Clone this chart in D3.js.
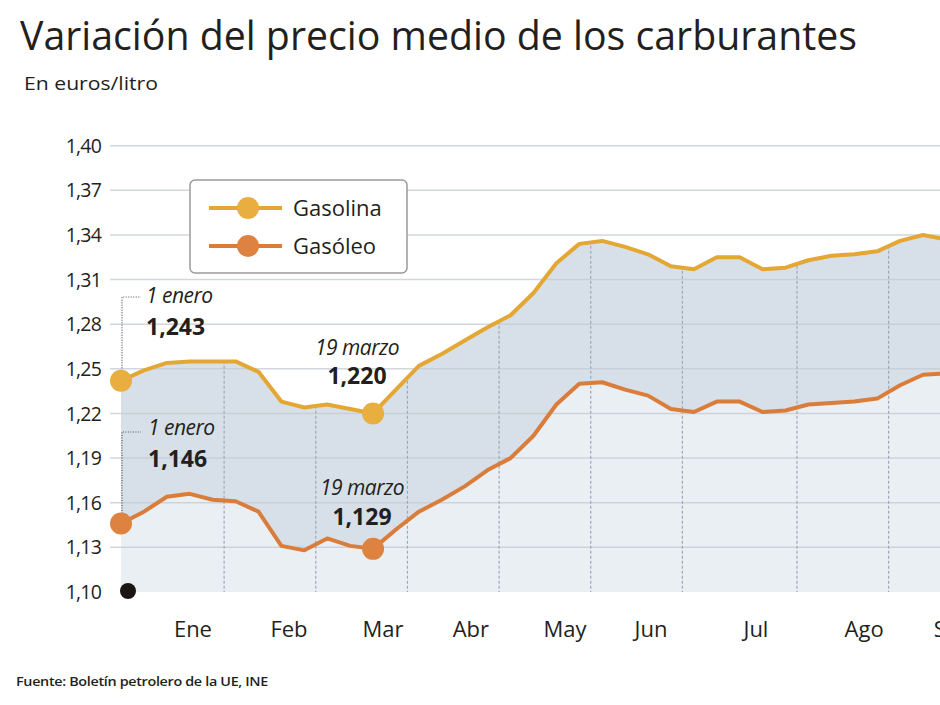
<!DOCTYPE html>
<html><head><meta charset="utf-8">
<script src="https://cdn.jsdelivr.net/npm/d3@7"></script>
<style>
body{margin:0;background:#fff}
svg{display:block}
text{font-family:"Open Sans",sans-serif;fill:#231f20}
</style>
</head><body><svg id="c" width="940" height="705"></svg>
<script>
// ---- DATA ----
const weeks = [0,1,2,3,4,5,6,7,8,9,10,11,12,13,14,15,16,17,18,19,20,21,22,23,24,25,26,27,28,29,30,31,32,33,34,35,36];
const gasolina = [1.242,1.249,1.254,1.255,1.255,1.255,1.248,1.228,1.224,1.226,1.223,1.220,1.236,1.252,1.260,1.269,1.278,1.286,1.301,1.321,1.334,1.336,1.332,1.327,1.319,1.317,1.325,1.325,1.317,1.318,1.323,1.326,1.327,1.329,1.336,1.340,1.337];
const gasoleo  = [1.146,1.154,1.164,1.166,1.162,1.161,1.154,1.131,1.128,1.136,1.131,1.129,1.142,1.154,1.162,1.171,1.182,1.190,1.205,1.226,1.240,1.241,1.236,1.232,1.223,1.221,1.228,1.228,1.221,1.222,1.226,1.227,1.228,1.230,1.239,1.246,1.247];
const monthLabels = ["Ene","Feb","Mar","Abr","May","Jun","Jul","Ago","Sep"];
const monthLabelPos = [3.14,7.33,11.43,15.27,19.38,23.13,27.71,32.43,36.3];
const monthBounds = [4.5,8.5,12.5,16.5,20.5,24.5,29.5,33.5];
const yTicks = [1.10,1.13,1.16,1.19,1.22,1.25,1.28,1.31,1.34,1.37,1.40];
const seriesNames = ["Gasolina","Gasóleo"];
const annotations = [
  {series:0, week:0,  date:"1 enero",  value:"1,243"},
  {series:1, week:0,  date:"1 enero",  value:"1,146"},
  {series:0, week:11, date:"19 marzo", value:"1,220"},
  {series:1, week:11, date:"19 marzo", value:"1,129"}
];

// ---- STYLE ----
const lineColors = ["#e4a734","#da7d3b"];
const markerColors = ["#e8ae3f","#dd8240"];
const bandTop = "#d7dfe8", bandLow = "#eaeff4";

const svg = d3.select("#c");
const x = d3.scaleLinear().domain([0,35]).range([121,923]);
const y = d3.scaleLinear().domain([1.10,1.40]).range([592,145.7]);
const fmt = d3.formatLocale({decimal:",",thousands:".",grouping:[3],currency:["","€"]}).format(".2f");

const series = [gasolina, gasoleo];
const pts = s => weeks.map((w,i)=>({w, v:series[s][i]}));

function fit(sel, w){ sel.attr("textLength", w).attr("lengthAdjust","spacingAndGlyphs"); return sel; }
fit(svg.append("text").attr("x",20).attr("y",50).attr("font-size",41).text("Variación del precio medio de los carburantes"),837);
fit(svg.append("text").attr("x",24).attr("y",90).attr("font-size",19).text("En euros/litro"),134);
fit(svg.append("text").attr("x",16).attr("y",686).attr("font-size",13).attr("font-weight",600).attr("letter-spacing",-0.3).text("Fuente: Boletín petrolero de la UE, INE"),252);

// areas
const areaTop = d3.area().x(d=>x(d.w)).y0(y(1.10)).y1(d=>y(d.v));
svg.append("path").datum(pts(0)).attr("d",areaTop).attr("fill",bandTop);
svg.append("path").datum(pts(1)).attr("d",areaTop).attr("fill",bandLow);

svg.append("clipPath").attr("id","clipTop").append("path").datum(pts(0)).attr("d",areaTop);

// horizontal grid
svg.append("g").selectAll("line").data(yTicks.filter(t=>t>1.10)).join("line")
  .attr("x1",110).attr("x2",940).attr("y1",d=>y(d)).attr("y2",d=>y(d))
  .attr("stroke","#c3c9d1").attr("stroke-opacity",0.75).attr("stroke-width",1.5);

// vertical grid
svg.append("g").attr("clip-path","url(#clipTop)").selectAll("line").data(monthBounds).join("line")
  .attr("x1",d=>x(d)).attr("x2",d=>x(d)).attr("y1",y(1.40)).attr("y2",y(1.10))
  .attr("stroke","#9ea9b7").attr("stroke-width",1.2).attr("stroke-dasharray","3,2");

// y tick labels
svg.append("g").selectAll("text").data(yTicks).join("text")
  .attr("x",101).attr("y",d=>y(d)).attr("dy","0.36em").attr("text-anchor","end")
  .attr("font-size",19.5).attr("letter-spacing",-0.8).text(d=>fmt(d));

// month labels
svg.append("g").selectAll("text").data(monthLabels).join("text")
  .attr("x",(d,i)=>x(monthLabelPos[i])).attr("y",637).attr("text-anchor","middle")
  .attr("font-size",22).text(d=>d);

// black dot
svg.append("circle").attr("cx",x(0)+7).attr("cy",y(1.10)-1).attr("r",8).attr("fill","#1b1614");

// lines
const line = d3.line().x(d=>x(d.w)).y(d=>y(d.v));
[0,1].forEach(s=>{
  svg.append("path").datum(pts(s)).attr("d",line).attr("fill","none")
    .attr("stroke",lineColors[s]).attr("stroke-width",4).attr("stroke-linejoin","round");
});

// leaders for 1 enero
annotations.filter(a=>a.week===0).forEach(a=>{
  const cx = x(a.week)+1, cy = y(series[a.series][a.week]);
  const topY = a.series===0 ? 297 : 432;
  svg.append("path").attr("d",`M${cx},${cy-10}V${topY}H${cx+19}`)
    .attr("fill","none").attr("stroke","#555").attr("stroke-width",1.2).attr("stroke-dasharray","1,1.5");
});

// markers
annotations.forEach(a=>{
  svg.append("circle").attr("cx",x(a.week)).attr("cy",y(series[a.series][a.week]))
    .attr("r",11).attr("fill",markerColors[a.series]);
});

// annotation texts
const annLayout = [
  {x:146, y1:303, y2:335, anchor:"start"},
  {x:148, y1:435, y2:467, anchor:"start"},
  {x:357, y1:355, y2:384, anchor:"middle"},
  {x:362, y1:495, y2:525, anchor:"middle"}
];
annotations.forEach((a,i)=>{
  const L = annLayout[i];
  svg.append("text").attr("x",L.x).attr("y",L.y1).attr("text-anchor",L.anchor)
    .attr("font-size",21).attr("font-style","italic").attr("letter-spacing",-0.5).text(a.date);
  svg.append("text").attr("x",L.x).attr("y",L.y2).attr("text-anchor",L.anchor)
    .attr("font-size",23).attr("font-weight",700).text(a.value);
});

// legend
const lg = svg.append("g");
lg.append("rect").attr("x",190).attr("y",180).attr("width",217).attr("height",93).attr("rx",5)
  .attr("fill","#fff").attr("stroke","#9a9a9a").attr("stroke-width",1.5);
seriesNames.forEach((n,i)=>{
  const yy = 208 + i*38;
  lg.append("line").attr("x1",209).attr("x2",282).attr("y1",yy).attr("y2",yy)
    .attr("stroke",lineColors[i]).attr("stroke-width",4);
  lg.append("circle").attr("cx",248).attr("cy",yy).attr("r",11).attr("fill",markerColors[i]);
  lg.append("text").attr("x",293).attr("y",yy+8).attr("font-size",22).text(n);
});
</script>
</body></html>
